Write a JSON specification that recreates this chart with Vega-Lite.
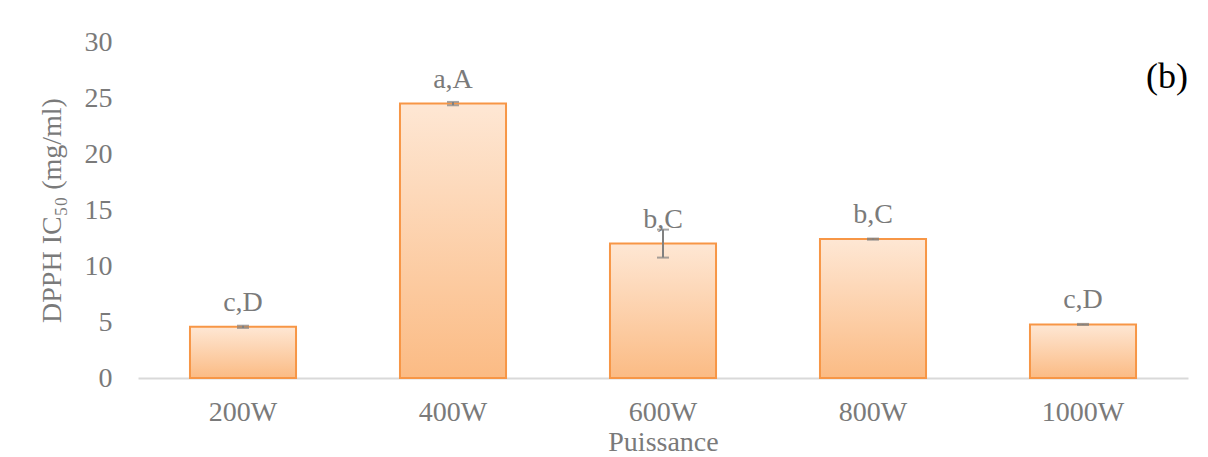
{
  "$schema": "https://vega.github.io/schema/vega-lite/v6.json",
  "width": 1050,
  "height": 336,
  "autosize": {"type": "none"},
  "padding": {"left": 138, "top": 42, "right": 20, "bottom": 79},
  "background": "white",
  "title": {
    "text": "(b)",
    "orient": "top",
    "anchor": "end",
    "frame": "group",
    "offset": -68,
    "font": "Liberation Serif",
    "fontSize": 36,
    "fontWeight": "normal",
    "color": "#000000"
  },
  "config": {
    "view": {"stroke": null},
    "font": "Liberation Serif"
  },
  "data": {
    "values": [
      {"power": "200W", "ic50": 4.57, "lo": 4.47, "hi": 4.67, "group": "c,D"},
      {"power": "400W", "ic50": 24.5, "lo": 24.35, "hi": 24.65, "group": "a,A"},
      {"power": "600W", "ic50": 12.0, "lo": 10.75, "hi": 13.25, "group": "b,C"},
      {"power": "800W", "ic50": 12.4, "lo": 12.35, "hi": 12.45, "group": "b,C"},
      {"power": "1000W", "ic50": 4.78, "lo": 4.73, "hi": 4.83, "group": "c,D"}
    ]
  },
  "encoding": {
    "x": {
      "field": "power",
      "type": "nominal",
      "sort": null,
      "scale": {"paddingInner": 0.495, "paddingOuter": 0.2475},
      "axis": {
        "title": "Puissance",
        "titleFont": "Liberation Serif",
        "titleFontSize": 28,
        "titleFontWeight": "normal",
        "titleColor": "#7a7a7a",
        "titleBaseline": "top",
        "titleY": 50,
        "labelFont": "Liberation Serif",
        "labelFontSize": 28,
        "labelColor": "#7a7a7a",
        "labelAngle": 0,
        "labelPadding": 20,
        "ticks": false,
        "domainColor": "#d9d9d9",
        "domainWidth": 2,
        "grid": false
      }
    }
  },
  "layer": [
    {
      "mark": {
        "type": "bar",
        "strokeWidth": 2,
        "stroke": "#f79646",
        "color": {
          "gradient": "linear",
          "x1": 0, "y1": 0, "x2": 0, "y2": 1,
          "stops": [
            {"offset": 0, "color": "#fee7d4"},
            {"offset": 1, "color": "#fbbb84"}
          ]
        }
      },
      "encoding": {
        "y": {
          "field": "ic50",
          "type": "quantitative",
          "scale": {"domain": [0, 30], "nice": false},
          "axis": {
            "values": [0, 5, 10, 15, 20, 25, 30],
            "title": "DPPH IC₅₀  (mg/ml)",
            "titleFont": "Liberation Serif",
            "titleFontSize": 28,
            "titleFontWeight": "normal",
            "titleColor": "#7a7a7a",
            "titleBaseline": "bottom",
            "titleX": -72,
            "titleY": 168,
            "labelFont": "Liberation Serif",
            "labelFontSize": 28,
            "labelColor": "#7a7a7a",
            "labelPadding": 26,
            "domain": false,
            "ticks": false,
            "grid": false
          }
        }
      }
    },
    {
      "mark": {"type": "rule", "color": "#808080", "strokeWidth": 2},
      "encoding": {
        "y": {"field": "lo", "type": "quantitative"},
        "y2": {"field": "hi"}
      }
    },
    {
      "mark": {"type": "tick", "color": "#808080", "size": 12, "thickness": 2},
      "encoding": {"y": {"field": "lo", "type": "quantitative"}}
    },
    {
      "mark": {"type": "tick", "color": "#808080", "size": 12, "thickness": 2},
      "encoding": {"y": {"field": "hi", "type": "quantitative"}}
    },
    {
      "mark": {
        "type": "text",
        "font": "Liberation Serif",
        "fontSize": 28,
        "color": "#7a7a7a",
        "baseline": "alphabetic",
        "dy": -16
      },
      "encoding": {
        "y": {"field": "ic50", "type": "quantitative"},
        "text": {"field": "group"}
      }
    }
  ]
}
